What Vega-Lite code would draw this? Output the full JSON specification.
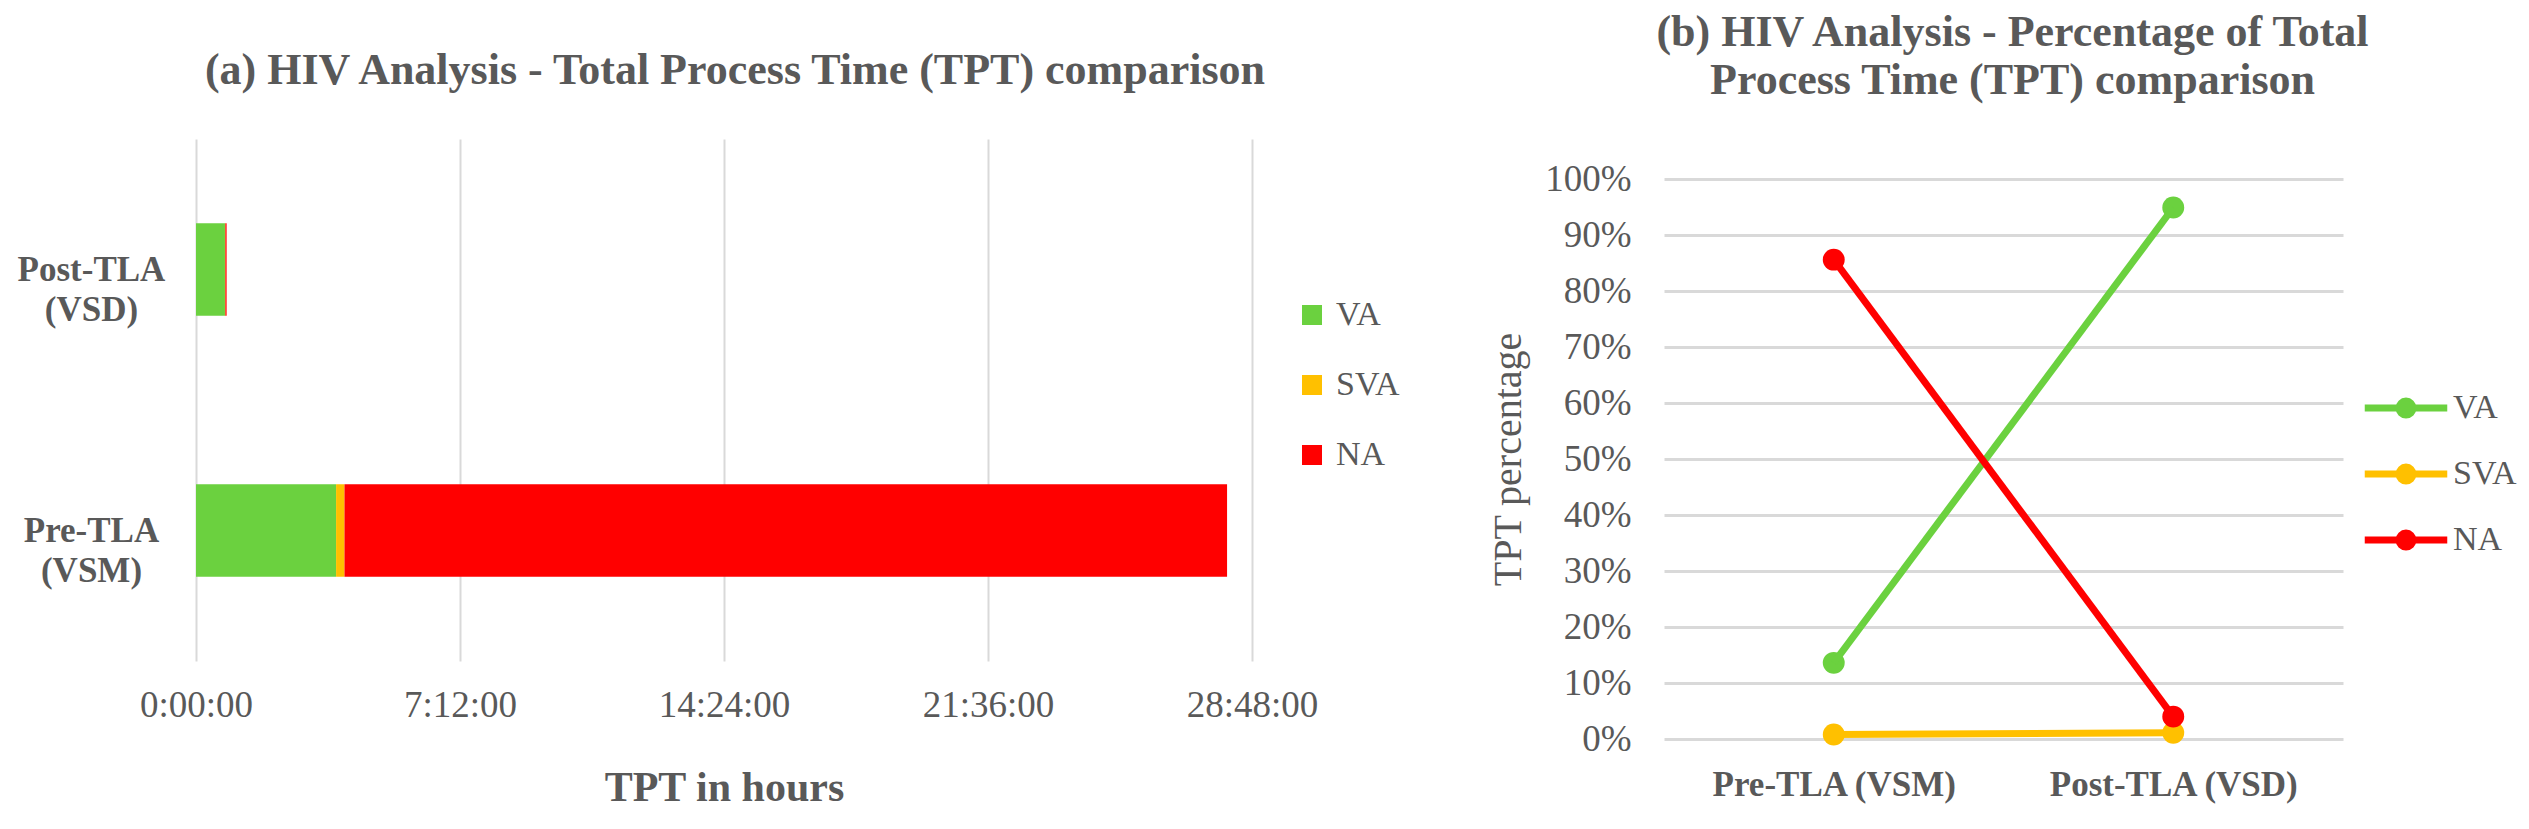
{
  "$schema": "https://vega.github.io/schema/vega-lite/v6.json",
  "background": "white",
  "padding": {"left": 17, "top": 11, "right": 0, "bottom": 0},
  "spacing": 88,
  "config": {
    "font": "Liberation Serif",
    "view": {"stroke": null},
    "axis": {"labelColor": "#595959", "titleColor": "#595959", "gridColor": "#D9D9D9", "domain": false, "ticks": false, "labelFont": "Liberation Serif", "titleFont": "Liberation Serif"},
    "legend": {"labelColor": "#595959", "labelFont": "Liberation Serif"},
    "title": {"color": "#595959", "font": "Liberation Serif", "fontSize": 44, "fontWeight": "bold", "anchor": "middle"}
  },
  "resolve": {"scale": {"color": "independent"}, "legend": {"color": "independent"}},
  "hconcat": [
    {
      "width": 1056,
      "height": 522,
      "title": {"text": "(a) HIV Analysis - Total Process Time (TPT) comparison", "offset": 46, "frame": "group", "dx": 11},
      "data": {"values": [
        {"stage": "Pre-TLA (VSM)", "type": "VA", "hours": 3.82},
        {"stage": "Pre-TLA (VSM)", "type": "SVA", "hours": 0.23},
        {"stage": "Pre-TLA (VSM)", "type": "NA", "hours": 24.07},
        {"stage": "Post-TLA (VSD)", "type": "VA", "hours": 0.79},
        {"stage": "Post-TLA (VSD)", "type": "SVA", "hours": 0.01},
        {"stage": "Post-TLA (VSD)", "type": "NA", "hours": 0.035}
      ]},
      "transform": [{"calculate": "indexof(['VA','SVA','NA'], datum.type)", "as": "ord"}],
      "mark": {"type": "bar"},
      "encoding": {
        "y": {"field": "stage", "type": "nominal", "sort": ["Post-TLA (VSD)", "Pre-TLA (VSM)"],
          "scale": {"paddingInner": 0.645, "paddingOuter": 0.3225},
          "axis": {"title": null, "grid": false, "labelExpr": "split(datum.label, ' ')", "labelAlign": "center", "labelPadding": 105, "labelFontSize": 35, "labelFontWeight": "bold", "labelLineHeight": 40, "labelBaseline": "middle"}},
        "x": {"field": "hours", "type": "quantitative", "stack": "zero",
          "scale": {"domain": [0, 28.8], "nice": false},
          "axis": {"values": [0, 7.2, 14.4, 21.6, 28.8], "gridWidth": 2,
            "labelExpr": "floor(datum.value) + ':' + (round((datum.value % 1) * 60) < 10 ? '0' : '') + round((datum.value % 1) * 60) + ':00'",
            "labelFontSize": 37, "labelPadding": 26, "labelFlush": false,
            "title": "TPT in hours", "titleFontSize": 42, "titleFontWeight": "bold", "titlePadding": 44}},
        "color": {"field": "type", "type": "nominal",
          "scale": {"domain": ["VA", "SVA", "NA"], "range": ["#6BD13F", "#FFC000", "#FF0000"]},
          "legend": {"title": null, "orient": "none", "legendX": 1099, "legendY": 159, "symbolType": "square", "symbolSize": 400, "symbolStrokeWidth": 0, "labelFontSize": 34, "rowPadding": 36, "labelOffset": 7}},
        "order": {"field": "ord", "type": "quantitative"}
      }
    },
    {
      "width": 679,
      "height": 600,
      "title": {"text": ["(b) HIV Analysis - Percentage of Total", "Process Time (TPT) comparison"], "lineHeight": 48, "offset": 36, "frame": "group", "dx": 9},
      "data": {"values": [
        {"stage": "Pre-TLA (VSM)", "type": "VA", "pct": 0.136},
        {"stage": "Post-TLA (VSD)", "type": "VA", "pct": 0.949},
        {"stage": "Pre-TLA (VSM)", "type": "SVA", "pct": 0.008},
        {"stage": "Post-TLA (VSD)", "type": "SVA", "pct": 0.011},
        {"stage": "Pre-TLA (VSM)", "type": "NA", "pct": 0.856},
        {"stage": "Post-TLA (VSD)", "type": "NA", "pct": 0.04}
      ]},
      "encoding": {
        "x": {"field": "stage", "type": "nominal", "sort": ["Pre-TLA (VSM)", "Post-TLA (VSD)"],
          "scale": {"padding": 0.5},
          "axis": {"title": null, "grid": false, "labelAngle": 0, "labelLimit": 0, "labelFontSize": 35, "labelFontWeight": "bold", "labelPadding": 28}},
        "y": {"field": "pct", "type": "quantitative",
          "scale": {"domain": [0, 1.0714286], "nice": false},
          "axis": {"values": [0, 0.1, 0.2, 0.3, 0.4, 0.5, 0.6, 0.7, 0.8, 0.9, 1], "format": ".0%", "gridWidth": 3, "labelFontSize": 37, "labelPadding": 33,
            "title": "TPT percentage", "titleFontSize": 40, "titleFontWeight": "normal", "titlePadding": 16, "titleY": 320}},
        "color": {"field": "type", "type": "nominal",
          "scale": {"domain": ["VA", "SVA", "NA"], "range": ["#6BD13F", "#FFC000", "#FF0000"]},
          "legend": {"title": null, "orient": "none", "legendX": 722, "legendY": 249,
            "symbolType": "M-2.5,0L2.5,0M-0.42,0A0.42,0.42,0,1,1,0.42,0A0.42,0.42,0,1,1,-0.42,0Z",
            "symbolSize": 1089, "symbolStrokeWidth": 7, "labelFontSize": 34, "rowPadding": 24, "labelOffset": 27}}
      },
      "layer": [
        {"mark": {"type": "point", "filled": true, "size": 480, "opacity": 1}},
        {"mark": {"type": "line", "strokeWidth": 7}}
      ]
    }
  ]
}
